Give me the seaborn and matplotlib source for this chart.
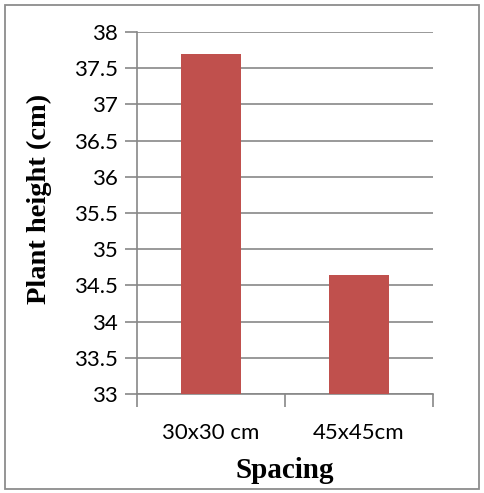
import matplotlib
matplotlib.use("Agg")
import matplotlib.pyplot as plt
import seaborn as sns
import pandas as pd
from matplotlib.patches import Rectangle

categories = ["30x30 cm", "45x45cm"]
heights = [37.7, 34.65]
yticks = [33, 33.5, 34, 34.5, 35, 35.5, 36, 36.5, 37, 37.5, 38]
ytick_labels = ["33", "33.5", "34", "34.5", "35", "35.5", "36", "36.5", "37", "37.5", "38"]

sns.set_theme(style="white")
plt.rcParams['font.family'] = ['Lato', 'DejaVu Sans']

df = pd.DataFrame({"Spacing": categories, "Height": heights})

W, H = 484, 493
fig = plt.figure(figsize=(W/100, H/100), dpi=100)
ax = fig.add_axes([137/W, 1 - 394/H, (433-137)/W, (394-32)/H])

sns.barplot(data=df, x="Spacing", y="Height", color="#C0504D", width=0.4,
            saturation=1, ax=ax, zorder=3, linewidth=0, edgecolor="none")
for p in ax.patches:
    y0 = p.get_y(); h = p.get_height()
    p.set_y(33); p.set_height(y0 + h - 33)

ax.set_ylim(33, 38)
ax.set_xlim(-0.5, 1.5)
ax.set_yticks(yticks)
ax.set_yticklabels(ytick_labels, fontsize=16)
ax.yaxis.grid(True, color="#878787", linewidth=1.2, zorder=0)
ax.set_axisbelow(True)

gray = "#878787"
for s in ["top", "right"]:
    ax.spines[s].set_visible(False)
for s in ["left", "bottom"]:
    ax.spines[s].set_color(gray)
    ax.spines[s].set_linewidth(1.2)

ax.tick_params(axis="y", which="both", left=True, length=9, width=1.2, color=gray,
               direction="out", pad=5, labelcolor="black")
ax.set_xticks([0, 1])
ax.set_xticklabels(categories, fontsize=16)
ax.set_xticks([-0.5, 0.5, 1.5], minor=True)
ax.tick_params(axis="x", which="major", length=0, pad=21, labelcolor="black")
ax.tick_params(axis="x", which="minor", bottom=True, length=9, width=1.2, color=gray,
               direction="out")

ax.set_xlabel("Spacing", fontsize=21, fontweight="bold", family="Liberation Serif",
              labelpad=10, color="black")
ax.set_ylabel("Plant height (cm)", fontsize=20.5, fontweight="bold", family="Liberation Serif",
              color="black")
ax.yaxis.set_label_coords((52 - 137) / 296, (394 - 199) / 362)

fig.patches.append(Rectangle((5/W, 4/H), (W-10)/W, (H-9)/H, transform=fig.transFigure,
                             fill=False, edgecolor="#8c8c8c", linewidth=1.3))

fig.savefig("out.png", dpi=100)
